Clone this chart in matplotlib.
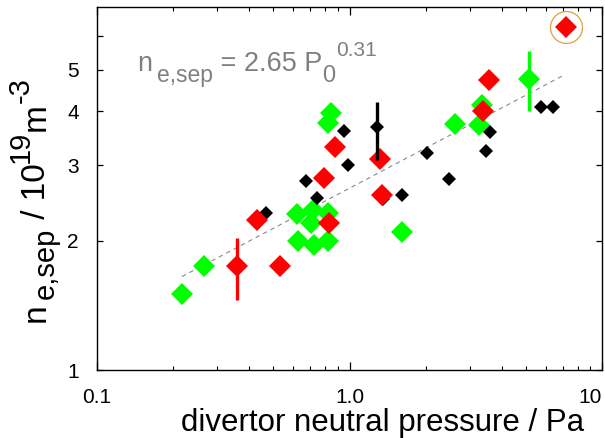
# ne_sep vs divertor neutral pressure (log-log), three data groups + power-law fit
import numpy as np
import matplotlib
matplotlib.use("Agg")
import matplotlib.pyplot as plt
from matplotlib.ticker import FixedLocator, FixedFormatter, NullFormatter

plt.rcParams["font.family"] = ["Liberation Sans", "DejaVu Sans"]

# --------------------------
# Datos
# --------------------------
black_p = [0.469, 0.675, 0.746, 0.955, 0.982, 1.28, 1.36, 1.62, 2.02, 2.47, 3.46, 3.59, 5.73, 6.39]
black_n = [2.32, 2.75, 2.51, 3.60, 3.00, 3.67, 2.50, 2.55, 3.20, 2.78, 3.23, 3.58, 4.09, 4.09]

red_p = [0.359, 0.431, 0.532, 0.796, 0.880, 0.833, 1.315, 1.35, 3.37, 3.56, 7.20]
red_n = [1.75, 2.24, 1.75, 2.80, 3.30, 2.20, 3.10, 2.55, 4.00, 4.73, 6.28]

green_p = [0.217, 0.266, 0.622, 0.628, 0.707, 0.720, 0.726, 0.825, 0.825, 0.841, 0.825,
           1.61, 2.61, 3.25, 3.34, 5.13]
green_n = [1.50, 1.75, 2.31, 2.00, 2.20, 2.36, 1.95, 2.32, 2.00, 3.96, 3.75,
           2.09, 3.73, 3.71, 4.13, 4.75]

# barras de error (valor, límite inferior, límite superior)
err_p = [1.28, 0.359, 5.13]
err_n = [3.67, 1.75, 4.75]
err_lo = [3.08, 1.455, 4.00]
err_hi = [4.20, 2.03, 5.52]
err_colors = ["black", "#ff0000", "#00ff00"]

# ajuste n = 2.65 P^0.31
fit_coef = 2.65
fit_exp = 0.31
fit_range = [0.217, 7.07]

xticks = [0.1, 1.0, 10.0]
xtick_labels = ["0.1", "1.0", "10"]
yticks = [1, 2, 3, 4, 5]
ytick_labels = ["1", "2", "3", "4", "5"]

W, H = 605, 438
fig = plt.figure(figsize=(W / 100, H / 100), dpi=100)
ax = fig.add_axes([97 / W, 1 - 370 / H, 505 / W, 363 / H])
renderer = fig.canvas.get_renderer()

# línea de ajuste
fp = np.array(fit_range)
ax.plot(fp, fit_coef * fp ** fit_exp, color="#8a8a8a", lw=0.8,
        linestyle=(0, (4, 3.5)), zorder=1)

ax.plot(green_p, green_n, "D", color="#00ff00", ms=10.8, mew=0, zorder=2)
ax.plot(black_p, black_n, "D", color="black", ms=7.6, mew=0, zorder=3)
ax.plot(red_p, red_n, "D", color="#ff0000", ms=10.8, mew=0, zorder=4)

for p, n, lo, hi, c in zip(err_p, err_n, err_lo, err_hi, err_colors):
    ax.plot([p, p], [lo, hi], color=c, lw=2.4, solid_capstyle="butt", zorder=5)

# punto destacado con círculo
hl = int(np.argmax(red_p))
ax.plot([red_p[hl]], [red_n[hl]], "o", mfc="none", mec="#e0a040", ms=23, mew=0.9, zorder=6)

ax.set_xscale("log")
ax.set_yscale("log")
ax.set_xlim(0.1, 10)
ax.set_ylim(1, 7)

ax.xaxis.set_major_locator(FixedLocator(xticks))
ax.xaxis.set_major_formatter(FixedFormatter(xtick_labels))
ax.xaxis.set_minor_formatter(NullFormatter())
ax.yaxis.set_major_locator(FixedLocator(yticks))
ax.yaxis.set_major_formatter(FixedFormatter(ytick_labels))
ax.yaxis.set_minor_locator(FixedLocator([6]))
ax.yaxis.set_minor_formatter(NullFormatter())

ax.tick_params(axis="x", which="major", direction="in", top=True, length=6, width=0.9,
               labelsize=15, pad=13)
ax.tick_params(axis="x", which="minor", direction="in", top=True, length=3, width=0.8)
ax.tick_params(axis="y", which="both", direction="in", right=True, length=4, width=0.9,
               labelsize=15, pad=13)
for s in ax.spines.values():
    s.set_linewidth(1.0)
# el "10" queda alineado a la derecha, dentro de la figura
ax.xaxis.get_major_ticks()[-1].label1.set_horizontalalignment("right")

ax.set_xlabel("divertor neutral pressure / Pa", fontsize=22.5)
ax.xaxis.set_label_coords(0.565, -0.104)


def chain_text(parts, x0, y0, rotation=0, color="black"):
    """Escribe trozos de texto seguidos (sub/superíndices grandes, estilo IDL).
    parts: (texto, tamaño, desplazamiento en px hacia arriba del texto, hueco previo en px)
    x0, y0 en píxeles desde arriba-izquierda."""
    pos = x0 if rotation == 0 else H - y0
    for s, fs, off, gap in parts:
        pos += gap
        if rotation == 0:
            t = fig.text(pos / W, (H - y0 + off) / H, s, fontsize=fs, color=color,
                         ha="left", va="baseline")
            pos = t.get_window_extent(renderer).x1
        else:
            t = fig.text((x0 - off) / W, pos / H, s, fontsize=fs, color=color,
                         rotation=90, rotation_mode="anchor", ha="left", va="baseline")
            pos = t.get_window_extent(renderer).y1


# etiqueta del eje y
ylabel_parts = [
    ("n", 24, 0, 0),
    ("e,sep", 21, -9, 4),
    (" / 10", 24, 0, 0),
    ("19", 21, 16, 0),
    ("m", 24, 0, 0),
    ("-3", 21, 16, 0),
]
chain_text(ylabel_parts, 45, 322, rotation=90)

# ecuación del ajuste
eq_parts = [
    ("n", 19.5, 0, 0),
    ("e,sep", 16.5, -11, 5),
    (" = 2.65 P", 19.5, 0, 0),
    ("0", 17, -11, 0),
    ("0.31", 15, 15, 1),
]
chain_text(eq_parts, 137, 71, color="#808080")

fig.savefig("out.png", dpi=100)
